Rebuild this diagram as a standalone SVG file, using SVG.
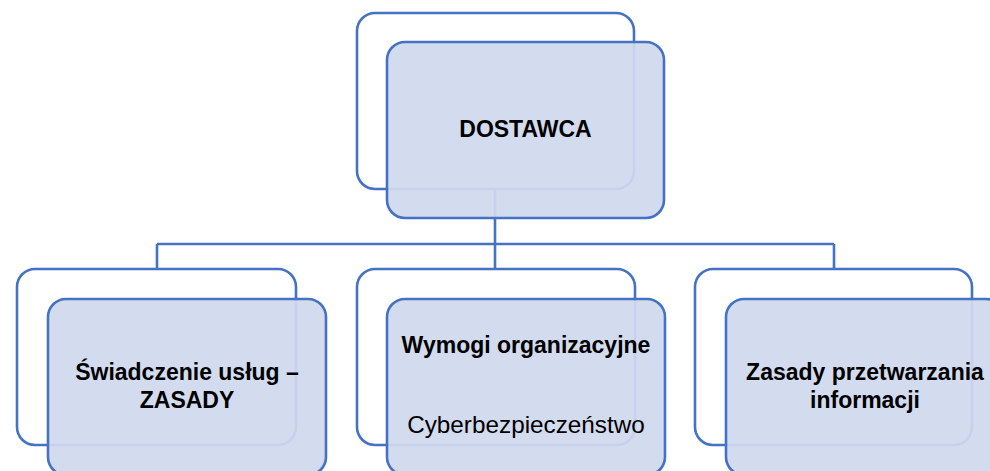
<svg xmlns="http://www.w3.org/2000/svg" width="990" height="471" viewBox="0 0 990 471">
<style>
.back{fill:#ffffff;stroke:#4472c4;stroke-width:2.6}
.front{fill:#d0d8ee;fill-opacity:0.93;stroke:#4472c4;stroke-width:2.6}
.conn{fill:none;stroke:#4472c4;stroke-width:2.6}
.b{font-family:"Liberation Sans",Arial,sans-serif;font-weight:bold;font-size:23px;fill:#000;text-anchor:middle}
.r{font-family:"Liberation Sans",Arial,sans-serif;font-size:24.3px;fill:#000;text-anchor:middle}
</style>
<rect width="990" height="471" fill="#ffffff"/>
<g id="connectors">
<path class="conn" d="M495 189 V244 M157 244 H834 M157 244 V269 M495 244 V269 M834 244 V269"/>
</g>
<g id="dostawca">
<rect class="back" x="357" y="13" width="277" height="176" rx="18"/>
<rect class="front" x="387" y="42" width="277" height="176" rx="18"/>
<text class="b" x="525.5" y="137">DOSTAWCA</text>
</g>
<g id="swiadczenie">
<rect class="back" x="17" y="269" width="279" height="176" rx="18"/>
<rect class="front" x="48" y="299" width="278" height="176" rx="18"/>
<text class="b" x="187" y="380">Świadczenie usług –</text>
<text class="b" x="187" y="408">ZASADY</text>
</g>
<g id="wymogi">
<rect class="back" x="357" y="269" width="278" height="176" rx="18"/>
<rect class="front" x="387" y="299" width="278" height="176" rx="18"/>
<text class="b" x="526" y="353">Wymogi organizacyjne</text>
<text class="r" x="526" y="433">Cyberbezpieczeństwo</text>
</g>
<g id="zasady">
<rect class="back" x="695" y="269" width="277" height="176" rx="18"/>
<rect class="front" x="726" y="299" width="278" height="176" rx="18"/>
<text class="b" x="865" y="380">Zasady przetwarzania</text>
<text class="b" x="865" y="408">informacji</text>
</g>
</svg>
